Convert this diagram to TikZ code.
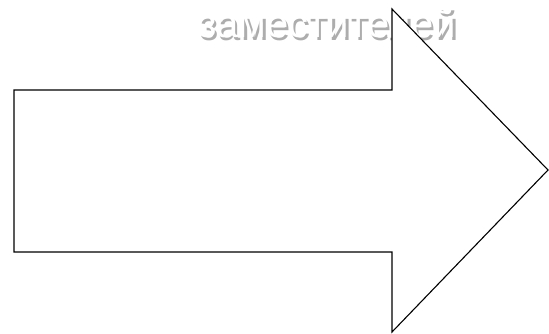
\documentclass[tikz,border=0pt]{standalone}
\usepackage{fontspec}
\setmainfont{Liberation Sans}
\newcommand\ttlword{заместителей}
\begin{document}
\begin{tikzpicture}[x=1pt,y=-1pt,
  arrowline/.style={draw=black,line width=1.1pt,line join=miter,fill=white},
  titletext/.style={font=\fontsize{40}{40}\selectfont,inner sep=0pt,anchor=base}]
\useasboundingbox (0,0) rectangle (549,334);
\coordinate (a1) at (14,90);
\coordinate (a2) at (392,90);
\coordinate (a3) at (392,9);
\coordinate (a4) at (548,170);
\coordinate (a5) at (392,332);
\coordinate (a6) at (392,252);
\coordinate (a7) at (14,252);
\node[titletext] (title) at (327,38) {%
  \rlap{\kern2.5pt\raisebox{-3pt}{\color{black!32}\ttlword}}{\color{white}\ttlword}};
\draw[arrowline] (a1) -- (a2) -- (a3) -- (a4) -- (a5) -- (a6) -- (a7) -- cycle;
\end{tikzpicture}
\end{document}
